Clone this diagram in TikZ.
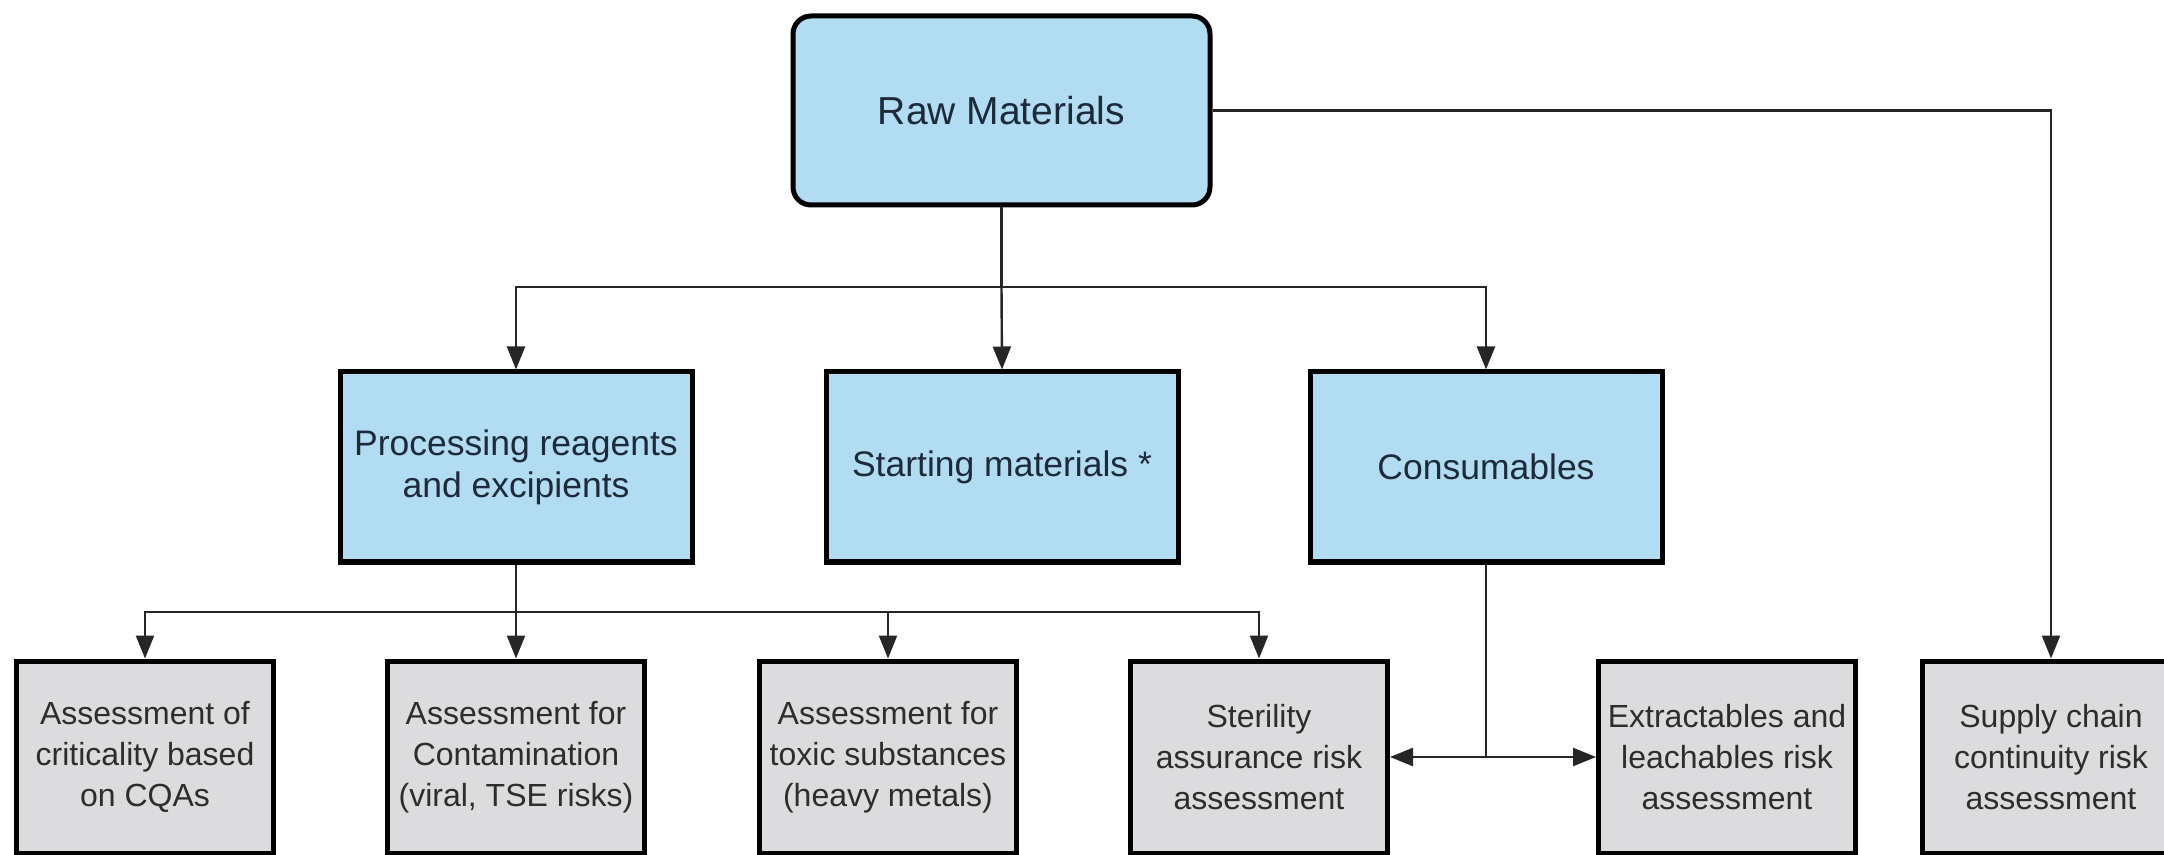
\documentclass[tikz,border=0pt]{standalone}
\usepackage{fontspec}
\setmainfont{Liberation Sans}
\usetikzlibrary{arrows.meta}
\definecolor{boxblue}{RGB}{178,220,242}
\definecolor{boxgray}{RGB}{220,220,222}
\definecolor{navytext}{RGB}{28,42,58}
\definecolor{graytext}{RGB}{45,45,45}
\begin{document}
\begin{tikzpicture}[x=0.5pt,y=-0.5pt,
  topbox/.style={draw=black, line width=2.5pt, fill=boxblue, text=navytext,
    rounded corners=9pt, minimum width=208.5pt, minimum height=94.5pt,
    align=center, inner sep=0pt, font=\fontsize{19.5}{23}\selectfont},
  bluebox/.style={draw=black, line width=2.5pt, fill=boxblue, text=navytext,
    minimum width=176pt, minimum height=95pt, align=center, inner sep=0pt,
    font=\fontsize{17.75}{21}\selectfont},
  graybox/.style={draw=black, line width=2.5pt, fill=boxgray, text=graytext,
    minimum width=128.5pt, minimum height=96pt, align=center, inner sep=0pt,
    font=\fontsize{16}{20.5}\selectfont},
  conn/.style={line width=1.2pt, draw=black!85},
  arr/.style={conn, -{Triangle[length=11.5pt,width=9pt]}}]
\useasboundingbox (0,0) rectangle (2164,855);
\clip (0,0) rectangle (2164,855);
\fill[white] (0,0) rectangle (2164,855);

% top
\node[topbox] (raw) at (1001.5,110.5) {Raw Materials};

% row 2
\node[bluebox] (proc) at (516,467) {Processing reagents\\and excipients};
\node[bluebox] (start) at (1002,467) {Starting materials *};
\node[bluebox] (cons) at (1486,467) {Consumables};

% row 3
\node[graybox] (b1) at (145,757) {Assessment of\\criticality based\\on CQAs};
\node[graybox] (b2) at (516,757) {Assessment for\\Contamination\\(viral, TSE risks)};
\node[graybox] (b3) at (888,757) {Assessment for\\toxic substances\\(heavy metals)};
\node[graybox] (b4) at (1259,757) {Sterility\\assurance risk\\assessment};
\node[graybox] (b5) at (1727,757) {Extractables and\\leachables risk\\assessment};
\node[graybox] (b6) at (2051,757) {Supply chain\\continuity risk\\assessment};

% junctions
\coordinate (j1) at (1001.5,287);
\coordinate (j2) at (516,612);
\coordinate (j3) at (1486,757);

% connectors
\draw[conn] (raw.south) -- (j1);
\draw[arr] (j1) -| (proc.north);
\draw[arr] (j1) -- (start.north);
\draw[arr] (j1) -| (cons.north);
\draw[arr] (raw.east) -| (b6.north);

\draw[conn] (proc.south) -- (j2);
\draw[arr] (j2) -| (b1.north);
\draw[arr] (j2) -- (b2.north);
\draw[arr] (j2) -| (b3.north);
\draw[arr] (j2) -| (b4.north);

\draw[conn] (cons.south) -- (j3);
\draw[arr] (j3) -- (b4.east |- j3);
\draw[arr] (j3) -- (b5.west |- j3);
\end{tikzpicture}
\end{document}
